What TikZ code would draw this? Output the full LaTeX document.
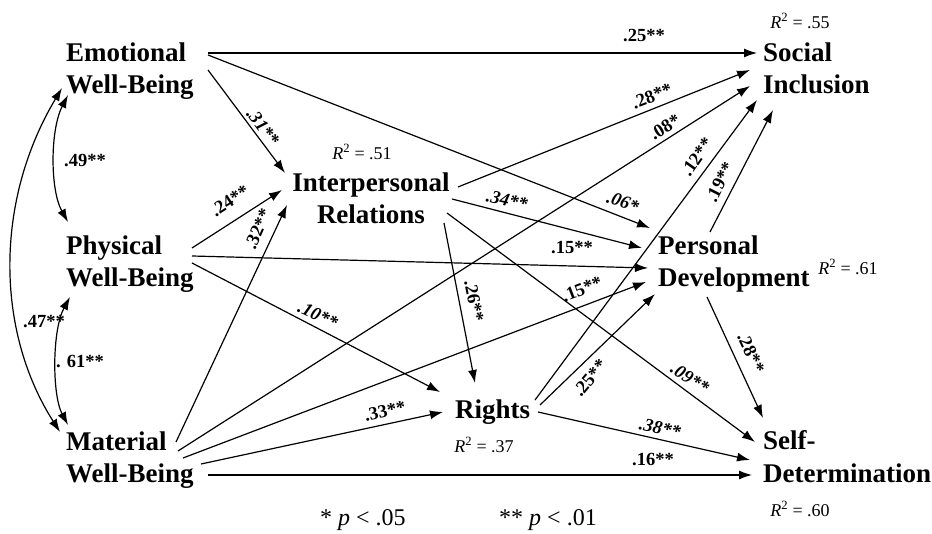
\documentclass[tikz,border=0pt]{standalone}
\usepackage{fontspec}
\setmainfont{Liberation Serif}
\usetikzlibrary{arrows.meta,calc}
\begin{document}
\begin{tikzpicture}[x=1pt,y=-1pt,
  var/.style={inner sep=0pt, align=left, font=\fontsize{27}{32.5}\selectfont\bfseries},
  coef/.style={inner sep=0pt, font=\fontsize{18.5}{20}\selectfont\bfseries},
  coefi/.style={inner sep=0pt, font=\fontsize{18.5}{20}\selectfont\bfseries\itshape},
  rsq/.style={inner sep=0pt, font=\fontsize{18}{20}\selectfont},
  leg/.style={inner sep=0pt, font=\fontsize{24}{28}\selectfont},
  arr/.style={line width=1.2pt, -{Latex[length=13pt,width=9pt]}},
  darr/.style={line width=1.2pt, {Latex[length=13pt,width=9pt]}-{Latex[length=13pt,width=9pt]}},
]
\useasboundingbox (0,0) rectangle (932,534);

% variables
\node[var, anchor=north west] (EWB) at (66,42.5) {Emotional\\Well-Being};
\node[var, anchor=north west] (PWB) at (66,235.5) {Physical\\Well-Being};
\node[var, anchor=north west] (MWB) at (66,431.5) {Material\\Well-Being};
\node[var, align=center, anchor=north] (IR) at (371,172.5) {Interpersonal\\Relations};
\node[var, anchor=north west] (SI) at (763,42.5) {Social\\Inclusion};
\node[var, anchor=north west] (PD) at (658,235.5) {Personal\\Development};
\node[var, anchor=north west] (RI) at (455,399.5) {Rights};
\node[var, anchor=north west] (SD) at (763,430.5) {Self-\\Determination};

% R squared
\node[rsq] (r1) at (362,152) {\textit{R}\textsuperscript{2} = .51};
\node[rsq] (r2) at (800,21) {\textit{R}\textsuperscript{2} = .55};
\node[rsq] (r3) at (848,267) {\textit{R}\textsuperscript{2} = .61};
\node[rsq] (r4) at (484,445) {\textit{R}\textsuperscript{2} = .37};
\node[rsq] (r5) at (800,509) {\textit{R}\textsuperscript{2} = .60};

% legend
\node[leg] (k1) at (363,520) {* \textit{p} < .05};
\node[leg] (k2) at (548,520) {** \textit{p} < .01};

% paths
\draw[arr] ($(EWB.north west)+(142,10.5)$) -- ($(SI.north west)+(-6,10.5)$);
\draw[arr] ($(EWB.north west)+(142,12.5)$) -- ($(PD.north west)+(-8,-7.5)$);
\draw[arr] ($(EWB.north west)+(142,27.5)$) -- ($(IR.north)+(-86,0.5)$);

\draw[arr] ($(PWB.north west)+(126,12.5)$) -- ($(IR.north)+(-89,17.5)$);
\draw[arr] ($(PWB.north west)+(126,20.5)$) -- ($(PD.north west)+(-10,32.5)$);
\draw[arr] ($(PWB.north west)+(126,27.5)$) -- ($(RI.north west)+(-15,-7.5)$);

\draw[arr] ($(MWB.north west)+(110,10.5)$) -- ($(IR.north)+(-84,32.5)$);
\draw[arr] ($(MWB.north west)+(112,19.5)$) -- ($(SI.north west)+(-13,43.5)$);
\draw[arr] ($(MWB.north west)+(117,26.5)$) -- ($(PD.north west)+(-12,46.5)$);
\draw[arr] ($(MWB.north west)+(135,32.5)$) -- ($(RI.north west)+(-12,12.5)$);
\draw[arr] ($(MWB.north west)+(142,43.5)$) -- ($(SD.north west)+(-11,44.5)$);

\draw[arr] ($(IR.north)+(87,14.5)$) -- ($(SI.north west)+(-13,27.5)$);
\draw[arr] ($(IR.north)+(81,26.5)$) -- ($(PD.north west)+(-16,12.5)$);
\draw[arr] ($(IR.north)+(76,40.5)$) -- ($(SD.north west)+(-8,11.5)$);
\draw[arr] ($(IR.north)+(73,50.5)$) -- ($(RI.north west)+(20,-16.5)$);

\draw[arr] ($(RI.north west)+(80,0.5)$) -- ($(SI.north west)+(-6,57.5)$);
\draw[arr] ($(RI.north west)+(85,5.5)$) -- ($(PD.north west)+(-3,58.5)$);
\draw[arr] ($(RI.north west)+(83,12.5)$) -- ($(SD.north west)+(-13,29.5)$);

\draw[arr] ($(PD.north west)+(52,-3.5)$) -- ($(SI.north west)+(10,67.5)$);
\draw[arr] ($(PD.north west)+(49,61.5)$) -- ($(SD.north west)+(0,-12.5)$);

% correlations
\draw[darr] ($(EWB.north west)+(2,52.5)$) .. controls (50,130) and (50,190) .. ($(PWB.north west)+(2,-13.5)$);
\draw[darr] ($(PWB.north west)+(4,61.5)$) .. controls (52,330) and (52,395) .. ($(MWB.north west)+(2,-6.5)$);
\draw[darr] ($(EWB.north west)+(-4,45.5)$) .. controls (-5,200) and (-5,330) .. ($(MWB.north west)+(-6,0.5)$);

% coefficients
\node[coef] (c1) at (644,36) {.25**};
\node[coefi, rotate=-20] (c2) at (623,202) {.06*};
\node[coefi, rotate=-53] (c3) at (263,127) {.31**};
\node[coef, rotate=33] (c4) at (230,201) {.24**};
\node[coef, rotate=66] (c5) at (258,229) {.32**};
\node[coefi, rotate=-25] (c6) at (318,315) {.10**};
\node[coef] (c7) at (572,248) {.15**};
\node[coef, rotate=32] (c8) at (665,127) {.08*};
\node[coef, rotate=21] (c9) at (582,289) {.15**};
\node[coef, rotate=12] (c10) at (385,411) {.33**};
\node[coef] (c11) at (653,460) {.16**};
\node[coef, rotate=21] (c12) at (652,96) {.28**};
\node[coefi, rotate=-13] (c13) at (507,200) {.34**};
\node[coef, rotate=-79] (c14) at (474,301) {.26**};
\node[coefi, rotate=-33] (c15) at (690,378) {.09**};
\node[coef, rotate=55] (c16) at (697,157) {.12**};
\node[coef, rotate=50] (c17) at (590,378) {.25**};
\node[coefi, rotate=-12] (c18) at (660,428) {.38**};
\node[coef, rotate=63] (c19) at (720,182) {.19**};
\node[coef, rotate=-65] (c20) at (751,353) {.28**};
\node[coef] (c21) at (85,161) {.49**};
\node[coef] (c22) at (80,362) {. 61**};
\node[coef] (c23) at (44,322) {.47**};
\end{tikzpicture}
\end{document}
